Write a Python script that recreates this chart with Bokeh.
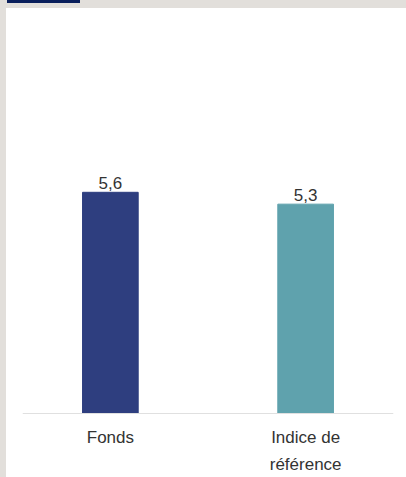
from bokeh.plotting import figure
from bokeh.models import ColumnDataSource, FactorRange, Range1d, Span
from bokeh.core.properties import value
from bokeh.embed import file_html
from bokeh.resources import INLINE

categories = ["Fonds", "Indice de référence"]
cat_labels = ["Fonds", "Indice de\nréférence"]
values = [5.6, 5.3]
value_labels = ["5,6", "5,3"]
colors = ["#2e3e7f", "#5fa2ad"]

src = ColumnDataSource(dict(cat=categories, val=values, lab=value_labels,
                            col=colors, clab=cat_labels, zero=[0, 0]))

p = figure(x_range=FactorRange(*categories, range_padding=-0.05),
           y_range=Range1d(-1.62, 10),
           width=400, height=469, output_backend="svg", toolbar_location=None,
           min_border_left=16, min_border_right=13, min_border_top=10, min_border_bottom=0,
           styles={"background-color": "white"})
p.axis.visible = False
p.grid.visible = False
p.outline_line_color = None
p.background_fill_color = None
p.border_fill_color = None

p.vbar(x="cat", top="val", width=0.285, color="col", source=src)
p.add_layout(Span(location=0, dimension="width", line_color="#e0e0e0", line_width=1))

p.text(x="cat", y="val", text="lab", source=src, text_align="center",
       text_baseline="bottom", y_offset=-3, text_font=value("Liberation Sans"),
       text_font_size="17px", text_color="#333333")
p.text(x="cat", y="zero", text="clab", source=src, text_align="center",
       text_baseline="top", y_offset=14, text_font=value("Liberation Sans"),
       text_font_size="17px", text_color="#333333", text_line_height=1.45)

html = file_html(p, INLINE)
css = ("<style>html{background:"
       "linear-gradient(#0a1f5c,#0a1f5c) 7px 0/73px 3px no-repeat,#e2dfdb !important;}"
       "body{margin:8px 0 0 6px !important;padding:0 !important;background:transparent !important;}"
       "body>div{background:#fff;}</style>")
html = html.replace("</head>", css + "</head>", 1)
open("out.html", "w").write(html)
